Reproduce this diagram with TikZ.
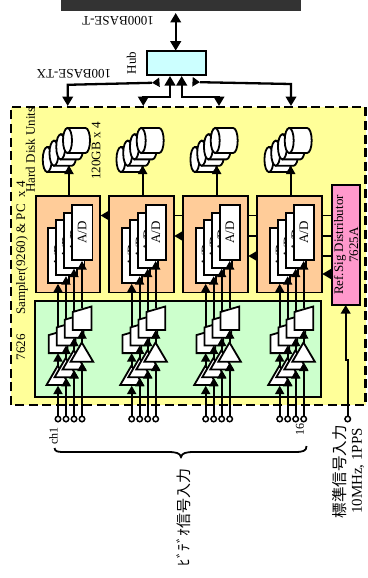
\documentclass[tikz,border=0pt]{standalone}
\usepackage{fontspec}
\setmainfont{Liberation Serif}
\newfontfamily\cjk{Noto Sans CJK JP}
\usetikzlibrary{arrows.meta,calc}
\definecolor{yel}{HTML}{FFFF99}
\definecolor{dark}{HTML}{333333}
\definecolor{hubc}{HTML}{CCFFFF}
\definecolor{pinkc}{HTML}{FF99CC}
\definecolor{orangec}{HTML}{FFCC99}
\definecolor{greenc}{HTML}{CCFFCC}
\tikzset{
  x=1pt,y=-1pt,
  every node/.style={inner sep=0pt,outer sep=0pt},
  lab/.style={font=\fontsize{13}{15}\selectfont},
  box/.style={draw=black,line width=1.9pt,minimum width=#1},
  bigarrow/.style={line width=2.3pt,{Triangle[length=9.5pt,width=10.5pt]}-{Triangle[length=9.5pt,width=10.5pt]}},
  bigline/.style={line width=2.3pt},
  sig/.style={line width=1.8pt,-{Triangle[length=8.5pt,width=9pt]}},
  port/.style={circle,draw=black,fill=white,line width=1.5pt,minimum size=5.5pt},
  part/.style={draw=black,fill=white,line width=1.8pt,line join=miter},
}
\begin{document}
\begin{tikzpicture}
\useasboundingbox (0,0) rectangle (367,578);
% top bar and hub
\node[fill=dark,minimum width=240,minimum height=11,anchor=north west] (bar) at (61,0) {};
\node[box=59,fill=hubc,minimum height=24.5,anchor=north west] (hub) at (146.7,50.7) {};
\coordinate (bt) at (175.7,13);
\draw[bigarrow] (bt) -- (hub.north -| bt);
\node[lab,rotate=180] (t1000) at (118,20.3) {1000BASE-T};
\node[lab,rotate=180] (t100) at (74,73.5) {100BASE-TX};
\node[lab,rotate=90] (thub) at (131.5,63) {Hub};
% system area
\fill[yel] (11,107) rectangle (365.5,405);
\draw[line width=2.2pt,dash pattern=on 9pt off 4.6pt] (11,405) -- (11,107) -- (365.5,107) -- (365.5,405) -- cycle;
% hub connectors
\coordinate (la) at (159,82.3); \coordinate (lb) at (152,82.8);
\coordinate (ra) at (193,81.8); \coordinate (rb) at (200,82.2);
\coordinate (d1) at (67.7,106); \coordinate (d2) at (143.3,106);
\coordinate (d3) at (219,106); \coordinate (d4) at (291,106);
\coordinate (u2) at (170,76); \coordinate (u3) at (181.7,76);
\draw[bigline,-{Triangle[length=7.5pt,width=9pt]}] (la) -- (lb);
\draw[bigline,-{Triangle[length=7.5pt,width=9pt]}] (ra) -- (rb);
\draw[bigline,-{Triangle[length=9.5pt,width=10.5pt]}] (lb) -- (67.7,84.8) -- (d1);
\draw[bigline,-{Triangle[length=9.5pt,width=10.5pt]}] (rb) -- (291,84) -- (d4);
\draw[bigarrow] (d2) -- (d2 |- 0,96.7) -- (u2 |- 0,96.7) -- (u2);
\draw[bigarrow] (d3) -- (d3 |- 0,96.7) -- (u3 |- 0,96.7) -- (u3);
% reference distributor
\node[lab,draw=black,line width=1.9pt,fill=pinkc,rotate=90,minimum width=120,minimum height=28,align=center] (pink) at (346,245) {Ref.Sig Distributor\\7625A};
% reference lines behind the sampler boxes
\coordinate (r1) at (100.6,215.5);
\coordinate (r2) at (174.3,236);
\coordinate (r3) at (248.3,256);
\coordinate (r4) at (322.3,274);
\foreach \r in {r1,r2,r3,r4}
  \draw[line width=1.8pt,-{Triangle[length=8.5pt,width=9.5pt]}] (pink.north |- \r) -- (\r);
% green box
\node[box=286,fill=greenc,minimum height=96,anchor=north west] (green) at (35,301) {};
\foreach \b/\dx in {1/0,2/73.7,3/147.7,4/221.7}{
\begin{scope}[xshift=\dx pt]
  \node[box=64.3,fill=orangec,minimum height=96.5,anchor=north west] (samp\b) at (35.7,196) {};
  % disks
  \foreach \k in {0,1,2,3}{
    \pgfmathsetmacro\ox{-6.75*(3-\k)}
    \pgfmathsetmacro\oy{6.35*(3-\k)}
    \begin{scope}[shift={(\ox,\oy)}]
      \draw[part] (67.5,128) -- (85.5,128) arc[start angle=90,end angle=-90,x radius=4.5pt,y radius=12.5pt] -- (67.5,153) -- cycle;
      \draw[part] (67.5,140.5) ellipse[x radius=4.5pt,y radius=12.5pt];
    \end{scope}
  }
  \coordinate (disk\b) at (69,165.5);
  \draw[sig] (samp\b.north -| disk\b) -- (disk\b);
  % A/D cards
  \foreach \j in {0,1,2,3}{
    \pgfmathsetmacro\cx{58.4+7.95*\j}
    \pgfmathsetmacro\cy{232.5+7.6*(3-\j)}
    \node[lab,draw=black,fill=white,line width=1.8pt,rotate=90,minimum width=55,minimum height=20.5] (card\b\j) at (\cx,\cy) {A/D};
  }
  % amplifiers and converters, back to front
  \foreach \j in {0,1,2,3}{
    \pgfmathsetmacro\ix{58+8*\j}
    \pgfmathsetmacro\o{7.7*(3-\j)}
    \pgfmathsetmacro\p{-8*(3-\j)}
    \coordinate (in\b\j) at (\ix,419);
    \coordinate (cardin\b\j) at (\ix,{261+7.6*(3-\j)});
    \coordinate (boxtop\b\j) at (\ix,{308+\o});
    \coordinate (boxbot\b\j) at (\ix,{330+\o});
    \coordinate (apex\b\j) at (\ix,{343+\o});
    \coordinate (base\b\j) at (\ix,{362.5+\o});
    \draw[sig] (boxtop\b\j) -- (cardin\b\j);
    \draw[part] ({72.7+\p},{312+\o}) -- ({91.5+\p},{306.5+\o}) -- ({91.5+\p},{330+\o}) -- ({72.7+\p},{330+\o}) -- cycle;
    \draw[part] ({81.8+\p},{342.5+\o}) -- ({93.2+\p},{361.8+\o}) -- ({70.6+\p},{361.8+\o}) -- cycle;
    \draw[sig] (apex\b\j) -- (boxbot\b\j);
  }
  \foreach \j in {0,1,2,3}{
    \draw[sig] (in\b\j) -- (base\b\j);
    \node[port] (port\b\j) at (in\b\j) {};
  }
\end{scope}
}
% reference input
\node[port] (refin) at (347.7,419) {};
\coordinate (jog) at (347.7,360);
\coordinate (jogb) at (345.7,360);
\draw[line width=1.8pt,-{Triangle[length=8.5pt,width=9.5pt]}] (refin) -- (jog) -- (jogb) -- (jogb |- pink.west);
% labels
\node[lab,rotate=90] (thd) at (30.5,150) {Hard Disk Units};
\node[lab,rotate=90] (tsamp) at (22,248) {Sampler(9260) \& PC\ \ x 4};
\node[lab,rotate=90] (t7626) at (21,347) {7626};
\node[lab,rotate=90] (tgb) at (96,151) {120GB x 4};
\node[font=\fontsize{12}{12}\selectfont,rotate=90] (tch) at (53.5,436) {ch1};
\node[font=\fontsize{12}{12}\selectfont,rotate=90] (t16) at (300,429) {16};
\draw[line width=1.8pt] (54.5,448) .. controls (55,452) and (58,452) .. (66,452) -- (168,452) .. controls (176,452) and (180,453) .. (181,457) .. controls (182,453) and (186,452) .. (194,452) -- (295,452) .. controls (303,452) and (306.5,451) .. (306.5,446);
\node[font=\fontsize{15}{15}\selectfont\cjk,rotate=90] (tvid) at (184,517.5) {ﾋﾞﾃﾞｵ信号入力};
\node[font=\fontsize{15.5}{15.5}\selectfont\cjk,rotate=90] (tstd) at (339.5,471.5) {標準信号入力};
\node[font=\fontsize{15}{15}\selectfont,rotate=90] (tmhz) at (358,471) {10MHz, 1PPS};
\end{tikzpicture}
\end{document}
